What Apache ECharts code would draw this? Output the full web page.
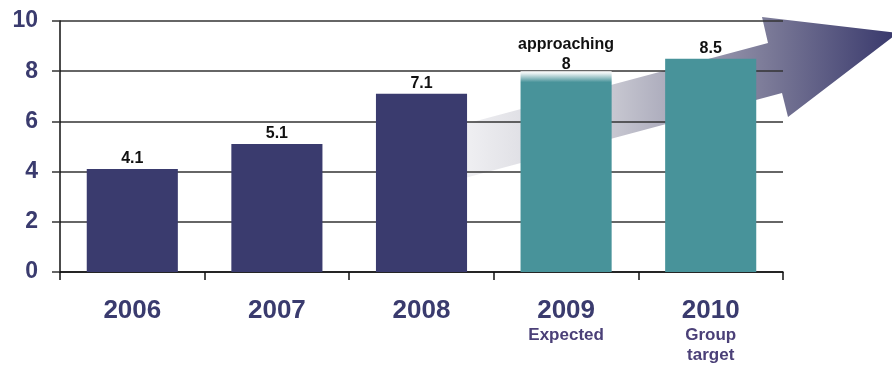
<!DOCTYPE html>
<html><head><meta charset="utf-8">
<script src="https://cdn.jsdelivr.net/npm/echarts@6.0.0/dist/echarts.min.js"></script>
<style>html,body{margin:0;padding:0;background:#fff}#c{width:892px;height:370px}</style>
</head><body><div id="c"></div>
<script>
const categories = ['2006', '2007', '2008', '2009', '2010'];
const subLabels = ['', '', '', 'Expected', 'Group\ntarget'];
const values = [4.1, 5.1, 7.1, 8, 8.5];
const valueLabels = ['4.1', '5.1', '7.1', 'approaching\n8', '8.5'];
const barKinds = ['actual', 'actual', 'actual', 'expected', 'target'];
const yMin = 0, yMax = 10, yStep = 2;

const NAVY = '#3a3b6e', TEAL = '#48939a', FONT = '"Liberation Sans", Arial, sans-serif';

const chart = echarts.init(document.getElementById('c'));

const data = values.map((v, i) => {
  const kind = barKinds[i];
  let color = kind === 'actual' ? NAVY : TEAL;
  if (kind === 'expected') {
    color = { type: 'linear', x: 0, y: 0, x2: 0, y2: 1, colorStops: [
      { offset: 0, color: '#ffffff' }, { offset: 0.012, color: '#e4eeef' }, { offset: 0.055, color: TEAL }, { offset: 1, color: TEAL }] };
  }
  const label = kind === 'expected'
    ? { formatter: valueLabels[i], distance: 1, lineHeight: 20, offset: [0, 4] }
    : { formatter: valueLabels[i], distance: 1 };
  return { value: v, itemStyle: { color }, label };
});

chart.setOption({
  animation: false,
  backgroundColor: '#fff',
  grid: { left: 60, right: 109, top: 21, bottom: 98, containLabel: false },
  xAxis: {
    type: 'category', data: categories,
    axisLine: { lineStyle: { color: '#111', width: 1.5 } },
    axisTick: { show: true, length: 8, alignWithLabel: false, lineStyle: { color: '#111', width: 1.5 } },
    axisLabel: {
      margin: 25, interval: 0,
      formatter: (val, idx) => {
        const s = subLabels[idx];
        let out = '{y|' + val + '}';
        if (s) out += '\n' + s.split('\n').map(t => '{s|' + t + '}').join('\n');
        return out;
      },
      rich: {
        y: { fontFamily: FONT, fontWeight: 'bold', fontSize: 26, color: NAVY, lineHeight: 28 },
        s: { fontFamily: FONT, fontWeight: 'bold', fontSize: 17, color: '#4b4078', lineHeight: 20 }
      }
    }
  },
  yAxis: {
    type: 'value', min: yMin, max: yMax, interval: yStep,
    axisLine: { show: true, lineStyle: { color: '#111', width: 1.5 } },
    axisTick: { show: true, length: 8, lineStyle: { color: '#333', width: 1.5 } },
    splitLine: { lineStyle: { color: '#333', width: 1.5 } },
    axisLabel: { margin: 22, fontFamily: FONT, fontWeight: 'bold', fontSize: 23, color: NAVY }
  },
  graphic: {
    elements: [{
      type: 'polygon', z: -10, silent: true,
      shape: { points: [[420, 190], [782, 93], [788, 117], [898, 33], [762, 17], [768, 43], [420, 136]] },
      style: { fill: { type: 'linear', x: 420, y: 0, x2: 892, y2: 0, global: true, colorStops: [
        { offset: 0, color: '#ffffff' }, { offset: 0.1, color: '#efeff2' }, { offset: 0.4, color: '#c9c9d2' },
        { offset: 0.74, color: '#7a7997' }, { offset: 1, color: '#3a3a6d' }] } }
    }]
  },
  series: [{
    type: 'bar', data, barWidth: '63%', z: 3,
    label: { show: true, position: 'top', fontFamily: FONT, fontWeight: 'bold', fontSize: 16, color: '#111', lineHeight: 18 }
  }]
});
</script>
</body></html>
